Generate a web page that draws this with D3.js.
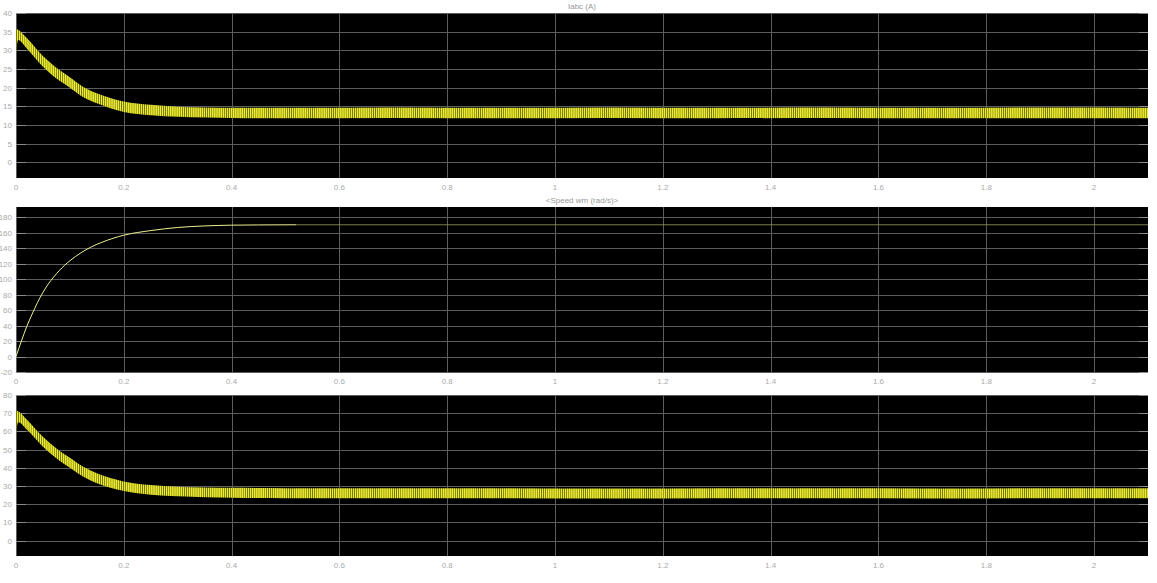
<!DOCTYPE html>
<html>
<head>
<meta charset="utf-8">
<script src="https://cdn.jsdelivr.net/npm/d3@7"></script>
<style>
  html, body { margin: 0; padding: 0; background: #fff; }
  svg { display: block; }
  text { font-family: "Liberation Sans", Arial, sans-serif; }
</style>
</head>
<body>
<svg id="chart" width="1157" height="583"></svg>
<script>
// ---------- data ----------
const xTicks = [0, 0.2, 0.4, 0.6, 0.8, 1.0, 1.2, 1.4, 1.6, 1.8, 2.0];
const xTickLabels = ["0", "0.2", "0.4", "0.6", "0.8", "1", "1.2", "1.4", "1.6", "1.8", "2"];

// Panel 1: Iabc (A) envelope of the oscillating band
const timeI = [0, 0.004, 0.02, 0.05, 0.08, 0.1, 0.125, 0.15, 0.2, 0.25, 0.3, 0.35, 0.4, 0.5, 0.7, 0.9, 1.1, 1.3, 1.5, 1.7, 1.9, 2.1];
const iUpper = [35.8, 35.5, 33.3, 28.5, 24.8, 22.8, 20.2, 18.5, 16.3, 15.4, 14.9, 14.7, 14.6, 14.6, 14.7, 14.6, 14.7, 14.6, 14.7, 14.6, 14.7, 14.6];
const iLower = [28.8, 32.8, 30.5, 25.6, 21.9, 20.0, 17.4, 15.8, 13.5, 12.6, 12.2, 12.0, 11.9, 11.8, 11.9, 11.8, 11.9, 11.8, 11.9, 11.8, 11.8, 11.8];
const iYTicks = [0, 5, 10, 15, 20, 25, 30, 35, 40];

// Panel 2: <Speed wm (rad/s)>
const timeW = [0, 0.01, 0.02, 0.03, 0.04, 0.05, 0.06, 0.07, 0.08, 0.09, 0.1, 0.12, 0.14, 0.16, 0.18, 0.2, 0.25, 0.3, 0.35, 0.4, 0.45, 0.52, 0.8, 1.2, 1.6, 2.1];
const speed = [0, 20, 39, 55, 70, 83, 94, 103, 111, 118, 124, 134, 142, 148, 153, 157, 163, 167, 169, 170, 170.3, 170.5, 170.5, 170.5, 170.5, 170.5];
const wYTicks = [-20, 0, 20, 40, 60, 80, 100, 120, 140, 160, 180];

// Panel 3: envelope of the third oscillating signal
const timeT = [0, 0.004, 0.02, 0.05, 0.08, 0.1, 0.125, 0.15, 0.2, 0.25, 0.3, 0.35, 0.4, 0.5, 0.7, 0.9, 1.1, 1.3, 1.5, 1.7, 1.9, 2.1];
const tUpper = [71.5, 71, 66.5, 57, 49.5, 45.5, 40.5, 37, 32.5, 30.5, 29.6, 29.2, 29.0, 28.8, 28.7, 28.8, 28.6, 28.8, 28.7, 28.6, 28.8, 28.7];
const tLower = [58, 65, 61, 51.5, 44, 40, 35, 31.5, 27.2, 25.2, 24.3, 23.8, 23.5, 23.3, 23.2, 23.3, 23.1, 23.3, 23.2, 23.1, 23.3, 23.2];
const tYTicks = [0, 10, 20, 30, 40, 50, 60, 70, 80];

// ---------- layout ----------
const svg = d3.select("#chart");
const X0 = 16, X1 = 1148;
const x = d3.scaleLinear().domain([0, 2.1]).range([X0, X1]);

const defs = svg.append("defs");
const pat = defs.append("pattern")
  .attr("id", "stripes").attr("patternUnits", "userSpaceOnUse")
  .attr("width", 2.1).attr("height", 8);
pat.append("rect").attr("x", 0).attr("y", 0).attr("width", 2.1).attr("height", 8).attr("fill", "#4a4a08");
pat.append("rect").attr("x", 0).attr("y", 0).attr("width", 1.55).attr("height", 8).attr("fill", "#ecec30");

const panels = [
  { top: 13, bottom: 178, domain: [-4.2, 40], ticks: iYTicks, title: "Iabc (A)", titleY: 9, xLabY: 190 },
  { top: 207, bottom: 372, domain: [-20, 193.5], ticks: wYTicks, title: "<Speed wm (rad/s)>", titleY: 203, xLabY: 384 },
  { top: 395, bottom: 556, domain: [-8.5, 80], ticks: tYTicks, title: "", titleY: 0, xLabY: 568 }
];

panels.forEach((p, i) => {
  const y = d3.scaleLinear().domain(p.domain).range([p.bottom, p.top]);
  p.y = y;
  const g = svg.append("g");
  defs.append("clipPath").attr("id", "clip" + i)
    .append("rect").attr("x", X0).attr("y", p.top).attr("width", X1 - X0).attr("height", p.bottom - p.top);

  g.append("rect").attr("x", X0).attr("y", p.top).attr("width", X1 - X0).attr("height", p.bottom - p.top).attr("fill", "#000");

  // grid
  g.selectAll(".hg").data(p.ticks).enter().append("line")
    .attr("x1", X0).attr("x2", X1)
    .attr("y1", d => Math.round(y(d)) + 0.5).attr("y2", d => Math.round(y(d)) + 0.5)
    .attr("stroke", "#5c5c5c").attr("stroke-width", 1);
  g.selectAll(".vg").data(xTicks).enter().append("line")
    .attr("x1", d => Math.round(x(d)) + 0.5).attr("x2", d => Math.round(x(d)) + 0.5)
    .attr("y1", p.top).attr("y2", p.bottom)
    .attr("stroke", "#5c5c5c").attr("stroke-width", 1);

  // inner ticks left and right
  g.selectAll(".lt").data(p.ticks).enter().append("line")
    .attr("x1", X0).attr("x2", X0 + 10)
    .attr("y1", d => Math.round(y(d)) + 0.5).attr("y2", d => Math.round(y(d)) + 0.5)
    .attr("stroke", "#8a8a8a");
  g.selectAll(".rt").data(p.ticks).enter().append("line")
    .attr("x1", X1 - 9).attr("x2", X1)
    .attr("y1", d => Math.round(y(d)) + 0.5).attr("y2", d => Math.round(y(d)) + 0.5)
    .attr("stroke", "#8a8a8a");

  // y tick labels
  g.selectAll(".yl").data(p.ticks).enter().append("text")
    .attr("x", 12).attr("y", d => y(d) + 3)
    .attr("text-anchor", "end").attr("font-size", 8).attr("fill", "#aaa")
    .text(d => d);

  // x tick labels
  g.selectAll(".xl").data(xTicks).enter().append("text")
    .attr("x", d => x(d)).attr("y", p.xLabY)
    .attr("text-anchor", "middle").attr("font-size", 8).attr("fill", "#aaa")
    .text((d, k) => xTickLabels[k]);

  if (p.title) {
    g.append("text").attr("x", (X0 + X1) / 2).attr("y", p.titleY)
      .attr("text-anchor", "middle").attr("font-size", 8).attr("fill", "#999")
      .text(p.title);
  }
  p.g = g;
});

// oscillating bands drawn as striped areas between envelopes
function drawBand(p, idx, t, up, lo) {
  const rows = t.map((d, k) => ({ t: d, u: up[k], l: lo[k] }));
  const area = d3.area().curve(d3.curveMonotoneX)
    .x(d => x(d.t)).y0(d => p.y(d.l)).y1(d => p.y(d.u));
  p.g.append("path").datum(rows)
    .attr("clip-path", "url(#clip" + idx + ")")
    .attr("d", area).attr("fill", "url(#stripes)");
}
drawBand(panels[0], 0, timeI, iUpper, iLower);
drawBand(panels[2], 2, timeT, tUpper, tLower);

// Panel 2 speed line: bright up to ~0.52 s, fainter afterwards
const rowsW = timeW.map((d, k) => ({ t: d, v: speed[k] }));
const lineW = d3.line().curve(d3.curveMonotoneX).x(d => x(d.t)).y(d => panels[1].y(d.v));
panels[1].g.append("path").datum(rowsW.filter(d => d.t >= 0.52))
  .attr("clip-path", "url(#clip1)")
  .attr("d", lineW)
  .attr("fill", "none").attr("stroke", "#9a9a60").attr("stroke-width", 0.8);
panels[1].g.append("path").datum(rowsW.filter(d => d.t <= 0.52))
  .attr("clip-path", "url(#clip1)")
  .attr("d", lineW)
  .attr("fill", "none").attr("stroke", "#f0f090").attr("stroke-width", 1);
</script>
</body>
</html>
